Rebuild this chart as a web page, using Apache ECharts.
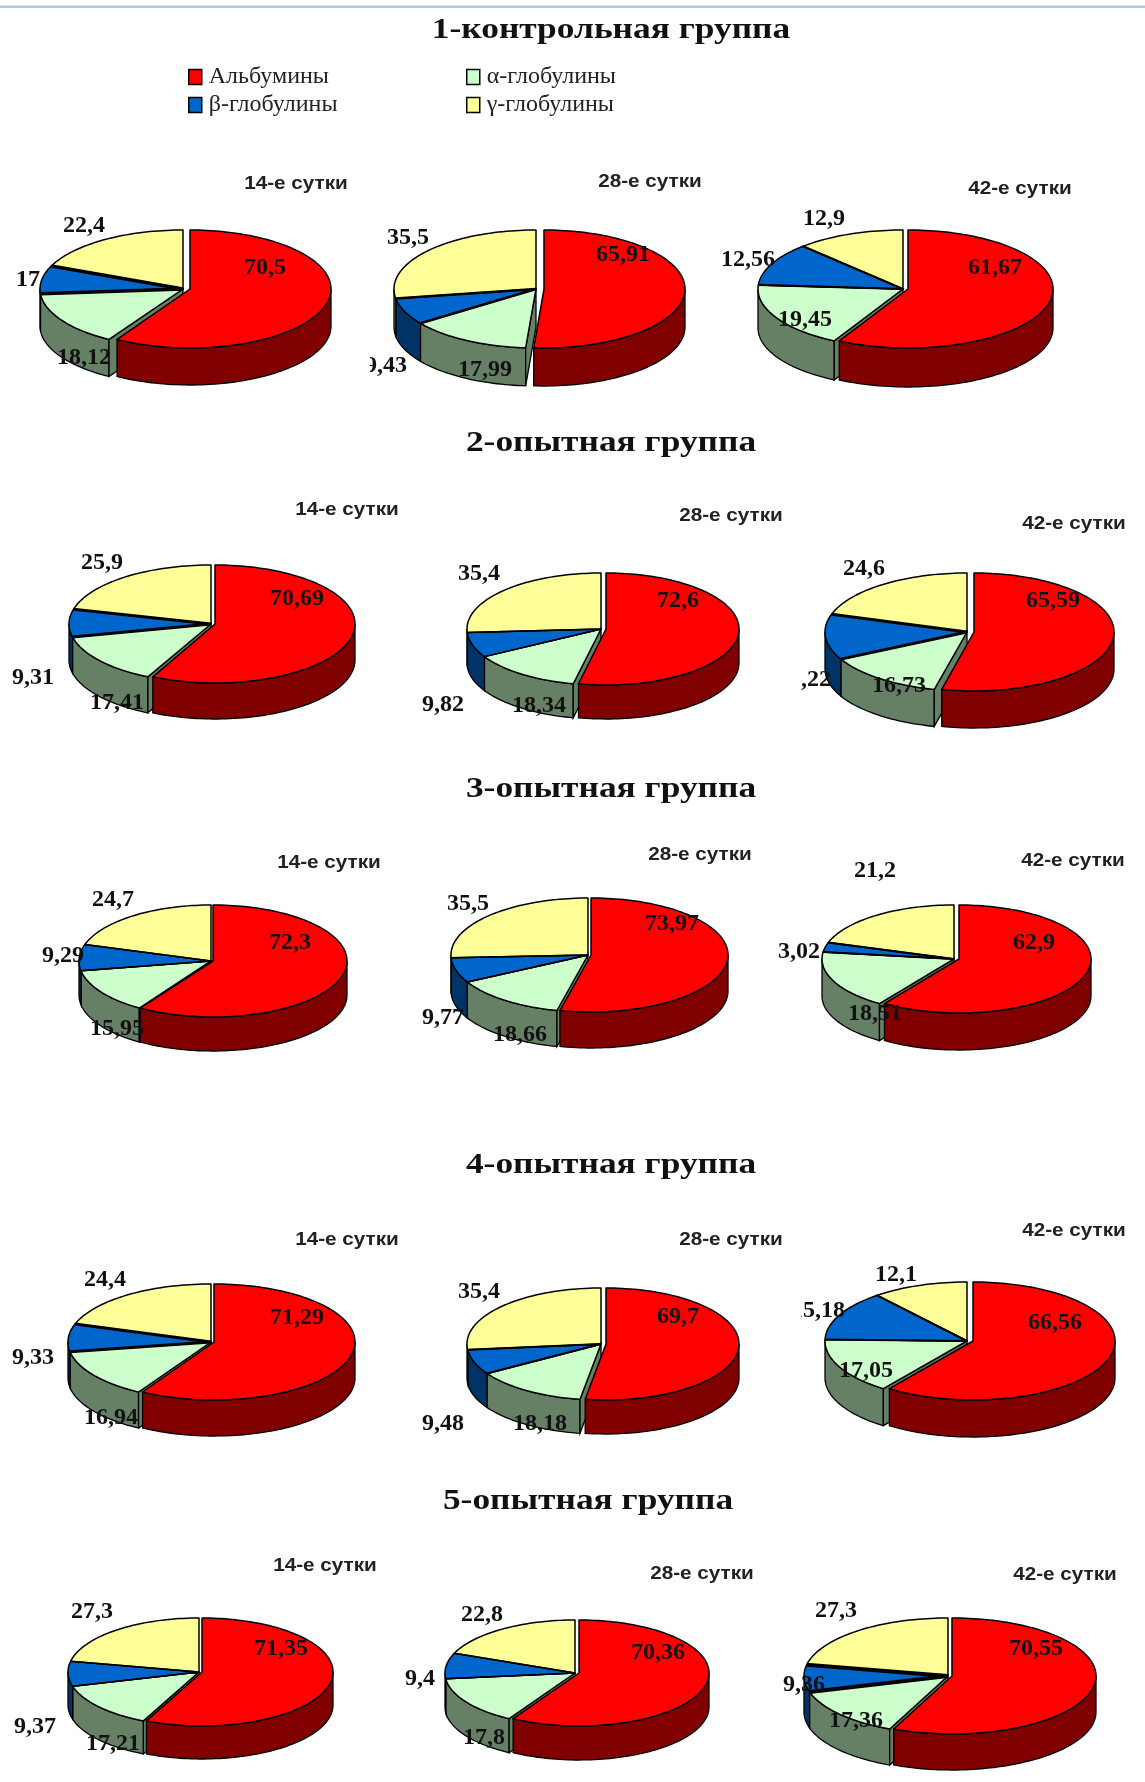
<!DOCTYPE html>
<html>
<head>
<meta charset="utf-8">
<style>html,body{margin:0;padding:0;background:#fff}#chart{width:1145px;height:1782px}</style>
<script src="https://cdn.jsdelivr.net/npm/echarts@6/dist/echarts.min.js"></script>
</head>
<body>
<div id="chart"></div>
<script>
// Protein fractions of blood serum: five groups, three sampling days each.
const seriesNames = ['Альбумины', 'α-глобулины', 'β-глобулины', 'γ-глобулины'];
const groupTitles = ['1-контрольная группа', '2-опытная группа', '3-опытная группа', '4-опытная группа', '5-опытная группа'];
const dayNames = ['14-е сутки', '28-е сутки', '42-е сутки'];

// One value per pie, row by row.
const albumins = [70.5, 65.91, 61.67, 70.69, 72.6, 65.59, 72.3, 73.97, 62.9, 71.29, 69.7, 66.56, 71.35, 70.36, 70.55];
const alphaGlobulins = [18.12, 17.99, 19.45, 17.41, 18.34, 16.73, 15.95, 18.66, 18.51, 16.94, 18.18, 17.05, 17.21, 17.8, 17.36];
const betaGlobulins = [9.17, 9.43, 12.56, 9.31, 9.82, 15.22, 9.29, 9.77, 3.02, 9.33, 9.48, 15.18, 9.37, 9.4, 9.36];
const gammaGlobulins = [22.4, 35.5, 12.9, 25.9, 35.4, 24.6, 24.7, 35.5, 21.2, 24.4, 35.4, 12.1, 27.3, 22.8, 27.3];
const fractions = [albumins, alphaGlobulins, betaGlobulins, gammaGlobulins];

// Page layout of each pie: centre, radii, wall height, albumin slice offset and radius change,
// width of the dark seam around the beta slice, label centres in series order,
// and the left edge of the frame that trims labels.
const pieLayout = [
  {cx:183, cy:289, rx:143, ry:59, h:37, dx:7, dr:-2, seam:3.5, clip:16,  at:[[265,268],[84,358],[19,280],[84,226]]},
  {cx:536, cy:289, rx:142, ry:59, h:38, dx:8, dr:-1, seam:2.5, clip:370, at:[[623,255],[485,370],[386,366],[408,238]]},
  {cx:903, cy:289, rx:145, ry:59, h:39, dx:5, dr:0,  seam:2.2, clip:0,   at:[[995,268],[805,320],[748,260],[824,219]]},
  {cx:211, cy:624, rx:142, ry:59, h:36, dx:4, dr:-2, seam:3,   clip:0,   at:[[297,599],[117,703],[33,678],[102,563]]},
  {cx:601, cy:629, rx:134, ry:56, h:34, dx:5, dr:-1, seam:1.5, clip:0,   at:[[678,601],[539,706],[443,705],[479,574]]},
  {cx:967, cy:632, rx:142, ry:59, h:37, dx:7, dr:-2, seam:3,   clip:800, at:[[1053,601],[899,686],[804,680],[864,569]]},
  {cx:211, cy:961, rx:132, ry:56, h:34, dx:2, dr:2,  seam:1.5, clip:0,   at:[[290,943],[117,1029],[63,956],[113,900]]},
  {cx:588, cy:955, rx:137, ry:57, h:36, dx:3, dr:0,  seam:1.5, clip:0,   at:[[672,924],[520,1035],[443,1018],[468,904]]},
  {cx:954, cy:959, rx:132, ry:54, h:37, dx:5, dr:0,  seam:2,   clip:0,   at:[[1034,943],[875,1014],[799,952],[875,871]]},
  {cx:211, cy:1342, rx:143, ry:58, h:36, dx:3, dr:-2, seam:3,  clip:0,   at:[[297,1318],[111,1418],[33,1358],[105,1280]]},
  {cx:601, cy:1344, rx:134, ry:56, h:34, dx:5, dr:-1, seam:2,  clip:0,   at:[[678,1317],[540,1424],[443,1424],[479,1292]]},
  {cx:967, cy:1341, rx:142, ry:59, h:37, dx:6, dr:0,  seam:2,  clip:801, at:[[1055,1323],[866,1371],[818,1311],[896,1275]]},
  {cx:199, cy:1672, rx:131, ry:54, h:33, dx:3, dr:0,  seam:1.5, clip:0,  at:[[281,1649],[113,1744],[35,1727],[92,1612]]},
  {cx:575, cy:1673, rx:130, ry:53, h:34, dx:4, dr:0,  seam:1.5, clip:0,  at:[[658,1653],[484,1738],[420,1679],[482,1615]]},
  {cx:948, cy:1676, rx:144, ry:58, h:36, dx:4, dr:0,  seam:4,  clip:0,   at:[[1036,1649],[856,1721],[804,1685],[836,1611]]}
];
const titleAt = [[611,30],[611,443],[611,789],[611,1165],[588,1501]];
const dayAt = [
  [296,184],[650,182],[1020,189],[347,510],[731,516],[1074,524],[329,863],[700,855],[1073,861],
  [347,1240],[731,1240],[1074,1231],[325,1566],[702,1574],[1065,1575]
];
const topColors = ['#ff0000', '#ccffcc', '#0066cc', '#ffff99'];
const wallColors = ['#800000', '#668066', '#003366', '#808050'];
const outline = '#000';
const labelFont = {fontFamily: 'Liberation Serif', fontSize: 24, fontWeight: 'bold', fill: '#111'};

// Point on the flattened rim; angle runs clockwise from twelve o'clock.
function rimPoint(c, a, drop) {
  return [c.x + Math.sin(a) * c.rx, c.y - Math.cos(a) * c.ry + (drop || 0)];
}
function rimArc(c, a0, a1, drop) {
  const steps = Math.max(2, Math.ceil(Math.abs(a1 - a0) / 0.03));
  const pts = [];
  for (let s = 0; s <= steps; s++) pts.push(rimPoint(c, a0 + (a1 - a0) * s / steps, drop));
  return pts;
}

// Draws one fraction of one pie: side wall, cut face, top surface, value label.
function sliceRenderer(k) {
  return function (params, api) {
    const i = api.value(0);
    const p = pieLayout[i];
    const vals = fractions.map(f => f[i]);
    const total = vals.reduce((s, v) => s + v, 0);
    let before = 0;
    for (let n = 0; n < k; n++) before += vals[n];
    const a0 = before / total * 2 * Math.PI;
    const a1 = (before + api.value(1)) / total * 2 * Math.PI;
    const c = k === 0
      ? {x: p.cx + p.dx, y: p.cy, rx: p.rx + p.dr, ry: p.ry}
      : {x: p.cx, y: p.cy, rx: p.rx, ry: p.ry};
    const children = [];

    // Only the near half of the rim shows a wall.
    const w0 = Math.max(a0, Math.PI / 2), w1 = Math.min(a1, Math.PI * 1.5);
    if (w1 > w0) {
      const pts = rimArc(c, w0, w1, 0).concat(rimArc(c, w1, w0, p.h));
      children.push({type: 'polygon', z2: k === 0 ? 2 : 1, shape: {points: pts},
        style: {fill: wallColors[k], stroke: outline, lineWidth: 1.3}});
    }
    // The albumin slice is pulled aside, which uncovers the cut face of the next slice.
    if (k === 1) {
      const r = rimPoint(c, a0);
      const face = [[c.x, c.y], r, [r[0], r[1] + p.h], [c.x, c.y + p.h]];
      children.push({type: 'polygon', z2: 1, shape: {points: face},
        style: {fill: wallColors[k], stroke: outline, lineWidth: 1.3}});
    }
    const top = [[c.x, c.y]].concat(rimArc(c, a0, a1, 0));
    children.push({type: 'polygon', z2: 3, shape: {points: top},
      style: {fill: topColors[k], stroke: outline, lineWidth: 1.5, lineJoin: 'round'}});
    if (k === 2) {
      children.push({type: 'polyline', z2: 4,
        shape: {points: [rimPoint(c, a0), [c.x, c.y], rimPoint(c, a1)]},
        style: {fill: 'none', stroke: outline, lineWidth: p.seam, lineJoin: 'bevel'}});
    }

    const text = {type: 'text', z2: 5, x: p.at[k][0], y: p.at[k][1],
      style: Object.assign({text: String(api.value(1)).replace('.', ','), align: 'center', verticalAlign: 'middle'}, labelFont)};
    if (k === 2 && p.clip) {
      children.push({type: 'group', z2: 5,
        clipPath: {type: 'rect', shape: {x: p.clip, y: p.at[k][1] - 20, width: 120, height: 40}},
        children: [text]});
    } else {
      children.push(text);
    }
    return {type: 'group', children: children};
  };
}

// Headings are widened a little along x, the way they were typeset in the figure.
const headingTexts = groupTitles.map((t, n) => ({
  type: 'text', x: titleAt[n][0], y: titleAt[n][1], scaleX: 1.18,
  style: {text: t, align: 'center', verticalAlign: 'middle', fontFamily: 'Liberation Serif', fontSize: 30, fontWeight: 'bold', fill: '#111'}
})).concat(pieLayout.map((p, n) => ({
  type: 'text', x: dayAt[n][0], y: dayAt[n][1], scaleX: 1.15,
  style: {text: dayNames[n % 3], align: 'center', verticalAlign: 'middle', fontFamily: 'Liberation Sans', fontSize: 18, fontWeight: 'bold', fill: '#222'}
})));

const legendStyle = {
  orient: 'vertical', top: 65, itemWidth: 13, itemHeight: 15, itemGap: 4, padding: 0,
  icon: 'rect', selectedMode: false,
  itemStyle: {borderColor: '#000', borderWidth: 1.5},
  textStyle: {fontFamily: 'Liberation Serif', fontSize: 24, color: '#222', padding: [0, 0, 0, 2]}
};

echarts.init(document.getElementById('chart'), null, {renderer: 'canvas'}).setOption({
  backgroundColor: '#fff',
  animation: false,
  legend: [
    Object.assign({left: 188, data: [seriesNames[0], seriesNames[2]]}, legendStyle),
    Object.assign({left: 466, data: [seriesNames[1], seriesNames[3]]}, legendStyle)
  ],
  graphic: [{type: 'rect', x: 0, y: 5.5, shape: {width: 1145, height: 2.5}, style: {fill: '#a9c6f0'}}].concat(headingTexts),
  series: seriesNames.map((name, k) => ({
    type: 'custom',
    name: name,
    coordinateSystem: 'none',
    itemStyle: {color: topColors[k]},
    renderItem: sliceRenderer(k),
    clip: false,
    data: fractions[k].map((v, i) => [i, v])
  }))
});
</script>
</body>
</html>
